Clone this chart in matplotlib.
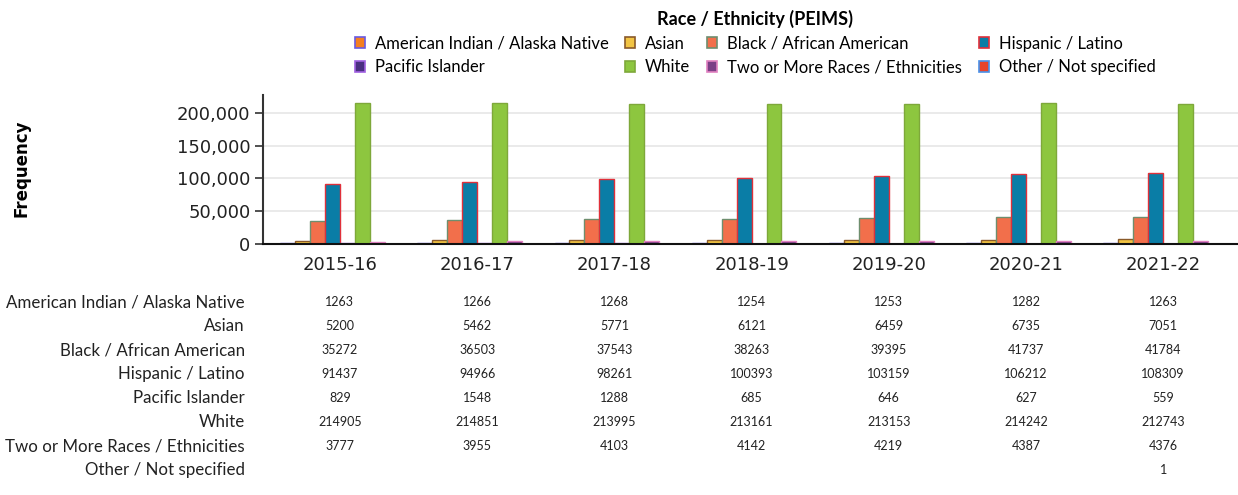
import matplotlib.pyplot as plt
import numpy as np
from matplotlib.patches import Patch
from matplotlib.transforms import blended_transform_factory
from matplotlib.ticker import FuncFormatter

years = ["2015-16", "2016-17", "2017-18", "2018-19", "2019-20", "2020-21", "2021-22"]
groups = [
    "American Indian / Alaska Native",
    "Asian",
    "Black / African American",
    "Hispanic / Latino",
    "Pacific Islander",
    "White",
    "Two or More Races / Ethnicities",
    "Other / Not specified",
]
am_indian = [1263, 1266, 1268, 1254, 1253, 1282, 1263]
asian = [5200, 5462, 5771, 6121, 6459, 6735, 7051]
black = [35272, 36503, 37543, 38263, 39395, 41737, 41784]
hispanic = [91437, 94966, 98261, 100393, 103159, 106212, 108309]
pacific = [829, 1548, 1288, 685, 646, 627, 559]
white = [214905, 214851, 213995, 213161, 213153, 214242, 212743]
two_more = [3777, 3955, 4103, 4142, 4219, 4387, 4376]
other = [None, None, None, None, None, None, 1]
series = [am_indian, asian, black, hispanic, pacific, white, two_more, other]

face_colors = ["#F47F20", "#F2C443", "#F26F4B", "#0A7DA6", "#4A2F80", "#8DC63F", "#7B3F86", "#E8442C"]
edge_colors = ["#6A5AE0", "#8A5A2A", "#6E8E6E", "#E0303A", "#A060E0", "#7EA83A", "#E080C0", "#4A90E8"]

fig = plt.figure(figsize=(12.38, 4.95), dpi=100)
ax = fig.add_axes([0.2124, 0.5071, 0.7876, 0.301])

x = np.arange(len(years))
w = 0.109
for i, vals in enumerate(series):
    v = [0 if a is None else a for a in vals]
    ax.bar(x + (i - 3.5) * w, v, width=w, color=face_colors[i],
           edgecolor=edge_colors[i], linewidth=1, zorder=3)

ax.set_xlim(-0.561, 6.545)
ax.set_ylim(0, 227000)
ax.set_yticks([0, 50000, 100000, 150000, 200000])
ax.yaxis.set_major_formatter(FuncFormatter(lambda v, p: f"{int(v):,}"))
ax.set_xticks(x)
ax.set_xticklabels(years, fontsize=13, color="#222222")
ax.tick_params(axis="x", length=0, pad=9)
ax.tick_params(axis="y", length=6, width=1.2, color="#333333", labelsize=13, labelcolor="#222222", pad=3)
ax.grid(axis="y", color="#E6E6E6", linewidth=1.2, zorder=0)
for s in ["top", "right"]:
    ax.spines[s].set_visible(False)
ax.spines["left"].set_color("#333333")
ax.spines["left"].set_linewidth(1.5)
ax.spines["bottom"].set_color("#111111")
ax.spines["bottom"].set_linewidth(1.5)
ax.spines["bottom"].set_zorder(4)

fig.text(22 / 1238, 1 - 168 / 495, "Frequency", rotation=90, ha="center", va="center",
         fontsize=12, fontweight="bold", family="DejaVu Sans")

# legend, filled row by row
order = [0, 4, 1, 5, 2, 6, 3, 7]
handles = [Patch(facecolor=face_colors[i], edgecolor=edge_colors[i], linewidth=1.2, label=groups[i]) for i in order]
leg = fig.legend(handles=handles, ncol=4, loc="upper center", bbox_to_anchor=(755 / 1238, 1.0),
                 frameon=False, title="Race / Ethnicity (PEIMS)",
                 prop={"family": "Lato", "size": 12}, handlelength=0.6, handleheight=0.6,
                 handletextpad=0.6, columnspacing=1.0, labelspacing=0.45, borderaxespad=0.2)
leg.get_title().set_fontfamily("Lato")
leg.get_title().set_fontweight("bold")
leg.get_title().set_fontsize(13)

# data table under the chart
trans = blended_transform_factory(ax.transData, fig.transFigure)
for r, (name, vals) in enumerate(zip(groups, series)):
    yy = 1 - (302 + 24 * r) / 495
    fig.text(245 / 1238, yy, name, ha="right", va="center", fontsize=12.2, family="Lato", color="#222222")
    for c, v in enumerate(vals):
        if v is not None:
            ax.text(c, yy, str(v), transform=trans, ha="center", va="center",
                    fontsize=9, family="Lato", color="#222222")

fig.savefig("out.png", dpi=100)
